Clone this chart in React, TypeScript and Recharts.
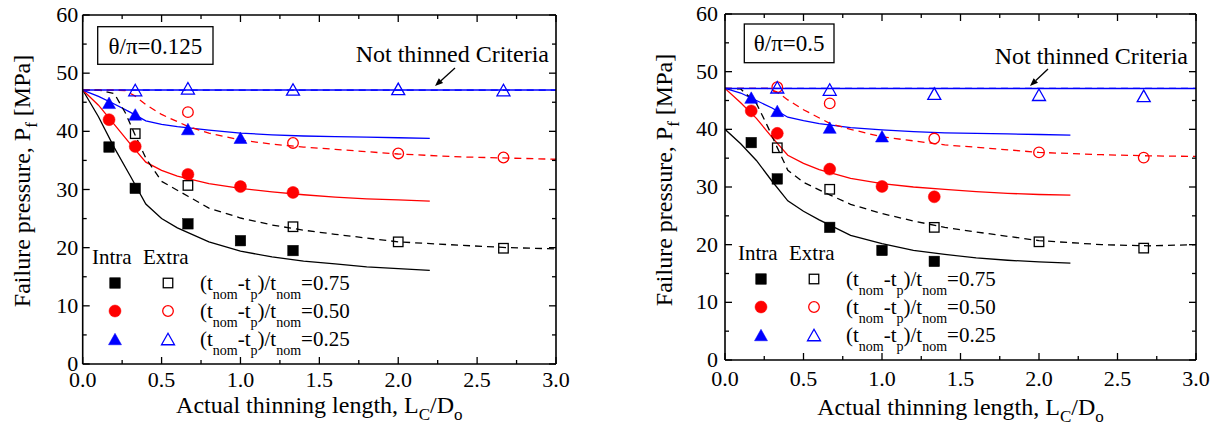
import { ComposedChart, Line, ReferenceLine, Scatter, XAxis, YAxis } from 'recharts'

const FONT = "'Liberation Serif', 'Times New Roman', 'DejaVu Serif', serif"
const BLACK = '#000000'
const RED = '#ff0000'
const BLUE = '#0000ff'

// L_C / D_o positions of the test points
const LC_INTRA = [0.167, 0.333, 0.667, 1.0, 1.333]
const LC_INTRA_025 = [0.167, 0.333, 0.667, 1.0]
const LC_EXTRA = [0.333, 0.667, 1.333, 2.0, 2.667]
const LC_EXTRA_050_A = [0.667, 1.333, 2.0, 2.667]

// L_C / D_o positions of the fitted curves
const LC_FIT_INTRA = [0, 0.1, 0.2, 0.3, 0.4, 0.5, 0.6, 0.8, 1.0, 1.2, 1.4, 1.6, 1.8, 2.0, 2.2]
const LC_FIT_EXTRA = [0, 0.1, 0.2, 0.27, 0.33, 0.4, 0.5, 0.67, 0.8, 1.0, 1.2, 1.4, 1.6, 2.0, 2.4, 2.7, 3.0]
const LC_FLAT = [0, 3.0]

const P_NOT_THINNED = 47.1

const X_TICKS = [0, 0.25, 0.5, 0.75, 1, 1.25, 1.5, 1.75, 2, 2.25, 2.5, 2.75, 3]
const Y_TICKS = [0, 5, 10, 15, 20, 25, 30, 35, 40, 45, 50, 55, 60]

// theta/pi = 0.125
const A_INTRA_075 = [37.3, 30.2, 24.1, 21.2, 19.5]
const A_EXTRA_075 = [39.6, 30.7, 23.6, 21.0, 19.9]
const A_INTRA_050 = [42.0, 37.4, 32.6, 30.5, 29.5]
const A_EXTRA_050 = [43.3, 38.0, 36.2, 35.5]
const A_INTRA_025 = [44.9, 42.9, 40.4, 38.9]
const A_EXTRA_025 = [47.1, 47.4, 47.2, 47.3, 47.1]

const A_FIT_INTRA_075 = [47.1, 42.5, 37.2, 32.4, 27.5, 25.0, 23.4, 21.0, 19.4, 18.4, 17.7, 17.2, 16.7, 16.4, 16.1]
const A_FIT_INTRA_050 = [47.1, 44.5, 41.2, 37.9, 34.7, 33.3, 32.3, 31.0, 30.2, 29.6, 29.1, 28.7, 28.4, 28.2, 28.0]
const A_FIT_INTRA_025 = [47.1, 46.0, 44.7, 43.3, 41.8, 41.2, 40.8, 40.2, 39.7, 39.4, 39.2, 39.1, 39.0, 38.9, 38.8]
const A_FIT_EXTRA_075 = [47.1, 47.1, 46.5, 43.2, 39.5, 35.4, 31.4, 28.8, 26.8, 25.1, 23.9, 23.0, 22.3, 21.0, 20.4, 20.0, 19.8]
const A_FIT_EXTRA_050 = [47.1, 47.1, 47.1, 47.0, 46.1, 44.6, 42.9, 40.8, 39.7, 38.5, 37.8, 37.3, 36.9, 36.1, 35.6, 35.4, 35.2]
const A_FIT_EXTRA_025 = [47.1, 47.1]

// theta/pi = 0.5
const B_INTRA_075 = [37.7, 31.4, 23.0, 19.0, 17.1]
const B_EXTRA_075 = [36.8, 29.6, 23.0, 20.5, 19.4]
const B_INTRA_050 = [43.2, 39.3, 33.1, 30.1, 28.3]
const B_EXTRA_050 = [47.3, 44.5, 38.4, 36.0, 35.1]
const B_INTRA_025 = [45.5, 43.2, 40.3, 38.8]
const B_EXTRA_025 = [47.3, 46.9, 46.2, 46.0, 45.8]

const B_FIT_INTRA_075 = [40.0, 37.5, 34.6, 31.0, 27.6, 25.8, 24.3, 21.6, 20.2, 19.0, 18.3, 17.7, 17.3, 17.0, 16.8]
const B_FIT_INTRA_050 = [47.1, 44.6, 41.9, 38.6, 35.5, 34.1, 33.0, 31.5, 30.6, 30.0, 29.6, 29.2, 28.9, 28.7, 28.6]
const B_FIT_INTRA_025 = [47.1, 46.3, 45.0, 43.7, 42.1, 41.5, 41.0, 40.3, 39.9, 39.6, 39.4, 39.3, 39.2, 39.1, 39.0]
const B_FIT_EXTRA_075 = [47.1, 47.0, 44.5, 40.6, 37.0, 32.9, 30.8, 28.6, 27.0, 25.4, 24.1, 23.0, 22.2, 20.7, 20.0, 19.8, 20.0]
const B_FIT_EXTRA_050 = [47.1, 47.1, 47.1, 47.1, 46.5, 45.1, 43.4, 41.0, 40.0, 38.7, 38.0, 37.3, 36.9, 36.0, 35.6, 35.4, 35.3]
const B_FIT_EXTRA_025 = [47.1, 47.1]

const RATIO_LABELS = ['0.75', '0.50', '0.25']

type Pt = { x: number; y: number }
type Shape = 'square' | 'circle' | 'triangle'
const zip = (xs: number[], ys: number[]): Pt[] => xs.map((x, i) => ({ x, y: ys[i] }))

type Group = { shape: Shape; color: string; intra: Pt[]; extra: Pt[]; intraFit: Pt[]; extraFit: Pt[] }

const GROUPS_A: Group[] = [
  { shape: 'square', color: BLACK, intra: zip(LC_INTRA, A_INTRA_075), extra: zip(LC_EXTRA, A_EXTRA_075), intraFit: zip(LC_FIT_INTRA, A_FIT_INTRA_075), extraFit: zip(LC_FIT_EXTRA, A_FIT_EXTRA_075) },
  { shape: 'circle', color: RED, intra: zip(LC_INTRA, A_INTRA_050), extra: zip(LC_EXTRA_050_A, A_EXTRA_050), intraFit: zip(LC_FIT_INTRA, A_FIT_INTRA_050), extraFit: zip(LC_FIT_EXTRA, A_FIT_EXTRA_050) },
  { shape: 'triangle', color: BLUE, intra: zip(LC_INTRA_025, A_INTRA_025), extra: zip(LC_EXTRA, A_EXTRA_025), intraFit: zip(LC_FIT_INTRA, A_FIT_INTRA_025), extraFit: zip(LC_FLAT, A_FIT_EXTRA_025) },
]

const GROUPS_B: Group[] = [
  { shape: 'square', color: BLACK, intra: zip(LC_INTRA, B_INTRA_075), extra: zip(LC_EXTRA, B_EXTRA_075), intraFit: zip(LC_FIT_INTRA, B_FIT_INTRA_075), extraFit: zip(LC_FIT_EXTRA, B_FIT_EXTRA_075) },
  { shape: 'circle', color: RED, intra: zip(LC_INTRA, B_INTRA_050), extra: zip(LC_EXTRA, B_EXTRA_050), intraFit: zip(LC_FIT_INTRA, B_FIT_INTRA_050), extraFit: zip(LC_FIT_EXTRA, B_FIT_EXTRA_050) },
  { shape: 'triangle', color: BLUE, intra: zip(LC_INTRA_025, B_INTRA_025), extra: zip(LC_EXTRA, B_EXTRA_025), intraFit: zip(LC_FIT_INTRA, B_FIT_INTRA_025), extraFit: zip(LC_FLAT, B_FIT_EXTRA_025) },
]

type PanelCfg = {
  left: number
  width: number
  plot: { l: number; t: number; r: number; b: number }
  theta: string
  box: { x: number; y: number; w: number; h: number }
  note: { x: number; y: number }
  arrow: [number, number, number, number]
  xTickDy: number
  yTickDx: number
  xTitleDy: number
  legendX: number
  groups: Group[]
}

const PANELS: PanelCfg[] = [
  {
    left: 0, width: 611, plot: { l: 82.7, t: 15, r: 556, b: 364 },
    theta: 'θ/π=0.125', box: { x: 97.7, y: 26.7, w: 115.3, h: 37.6 },
    note: { x: 549, y: 62 }, arrow: [455, 68, 435, 86],
    xTickDy: 22.5, yTickDx: -4.5, xTitleDy: 49, legendX: 92, groups: GROUPS_A,
  },
  {
    left: 611, width: 612, plot: { l: 725, t: 14, r: 1196, b: 360 },
    theta: 'θ/π=0.5', box: { x: 744.3, y: 24, w: 89.7, h: 38.7 },
    note: { x: 1188, y: 64 }, arrow: [1048, 69, 1030, 86],
    xTickDy: 25.5, yTickDx: -7, xTitleDy: 55, legendX: 738, groups: GROUPS_B,
  },
]

const isMajor = (v: number, step: number) => Math.abs(v / step - Math.round(v / step)) < 1e-6

const textStyle = { fontFamily: FONT }

function Marker({ cx, cy, shape, color, filled }: { cx: number; cy: number; shape: Shape; color: string; filled: boolean }) {
  const fill = filled ? color : 'none'
  const sw = filled ? 0.5 : 1.3
  if (shape === 'square') {
    const s = filled ? 10.5 : 9.5
    return <rect x={cx - s / 2} y={cy - s / 2} width={s} height={s} fill={fill} stroke={color} strokeWidth={sw} />
  }
  if (shape === 'circle') {
    return <circle cx={cx} cy={cy} r={filled ? 6 : 5.3} fill={fill} stroke={color} strokeWidth={sw} />
  }
  const w = 13
  const h = 11.5
  return (
    <polygon
      points={`${cx},${cy - h / 2} ${cx + w / 2},${cy + h / 2} ${cx - w / 2},${cy + h / 2}`}
      fill={fill}
      stroke={color}
      strokeWidth={sw}
    />
  )
}

function Panel({ cfg }: { cfg: PanelCfg }) {
  const { left, width, plot } = cfg
  const axisLine = { stroke: '#000', strokeWidth: 1.6 }

  const bottomTick = (p: any) => {
    const v = p.payload.value as number
    const major = isMajor(v, 0.5)
    return (
      <g>
        <line x1={p.x} x2={p.x} y1={p.y} y2={p.y - (major ? 7 : 4)} stroke="#000" strokeWidth={1.3} />
        {major && (
          <text x={p.x} y={p.y + cfg.xTickDy} textAnchor="middle" style={textStyle} fontSize={22} fill="#000">
            {v.toFixed(1)}
          </text>
        )}
      </g>
    )
  }
  const topTick = (p: any) => {
    const major = isMajor(p.payload.value, 0.5)
    return <line x1={p.x} x2={p.x} y1={p.y} y2={p.y + (major ? 7 : 4)} stroke="#000" strokeWidth={1.3} />
  }
  const leftTick = (p: any) => {
    const v = p.payload.value as number
    const major = isMajor(v, 10)
    return (
      <g>
        <line x1={p.x} x2={p.x + (major ? 7 : 4)} y1={p.y} y2={p.y} stroke="#000" strokeWidth={1.3} />
        {major && (
          <text x={p.x + cfg.yTickDx} y={p.y + 7} textAnchor="end" style={textStyle} fontSize={22} fill="#000">
            {v}
          </text>
        )}
      </g>
    )
  }
  const rightTick = (p: any) => {
    const major = isMajor(p.payload.value, 10)
    return <line x1={p.x} x2={p.x - (major ? 7 : 4)} y1={p.y} y2={p.y} stroke="#000" strokeWidth={1.3} />
  }

  return (
    <div style={{ position: 'absolute', left, top: 0 }}>
      <ComposedChart
        width={width}
        height={433}
        margin={{ top: plot.t - 2, right: left + width - plot.r - 2, bottom: 433 - plot.b - 40, left: plot.l - left - 60 }}
      >
        <XAxis dataKey="x" type="number" domain={[0, 3]} ticks={X_TICKS} interval={0} allowDataOverflow
          height={40} tickSize={0} tickMargin={0} tickLine={false} axisLine={axisLine} tick={bottomTick} />
        <XAxis xAxisId="top" orientation="top" dataKey="x" type="number" domain={[0, 3]} ticks={X_TICKS} interval={0}
          allowDataOverflow height={2} tickSize={0} tickMargin={0} tickLine={false} axisLine={axisLine} tick={topTick} />
        <YAxis dataKey="y" type="number" domain={[0, 60]} ticks={Y_TICKS} interval={0} allowDataOverflow
          width={60} tickSize={0} tickMargin={0} tickLine={false} axisLine={axisLine} tick={leftTick} />
        <YAxis yAxisId="right" orientation="right" type="number" domain={[0, 60]} ticks={Y_TICKS} interval={0}
          allowDataOverflow width={2} tickSize={0} tickMargin={0} tickLine={false} axisLine={axisLine} tick={rightTick} />

        <ReferenceLine y={P_NOT_THINNED} stroke={BLUE} strokeWidth={1.5} />

        {cfg.groups.map((g, i) => (
          <Line key={`fi${i}`} data={g.intraFit} dataKey="y" type="linear" stroke={g.color} strokeWidth={1.3}
            dot={false} activeDot={false} isAnimationActive={false} />
        ))}
        {cfg.groups.map((g, i) => (
          <Line key={`fe${i}`} data={g.extraFit} dataKey="y" type="linear" stroke={g.color} strokeWidth={1.3}
            strokeDasharray="7 5" dot={false} activeDot={false} isAnimationActive={false} />
        ))}
        {cfg.groups.map((g, i) => (
          <Scatter key={`pi${i}`} data={g.intra} isAnimationActive={false}
            shape={(p: any) => <Marker cx={p.cx} cy={p.cy} shape={g.shape} color={g.color} filled />} />
        ))}
        {cfg.groups.map((g, i) => (
          <Scatter key={`pe${i}`} data={g.extra} isAnimationActive={false}
            shape={(p: any) => <Marker cx={p.cx} cy={p.cy} shape={g.shape} color={g.color} filled={false} />} />
        ))}
      </ComposedChart>
    </div>
  )
}

function Overlay({ cfg }: { cfg: PanelCfg }) {
  const { plot, box, note, arrow, legendX } = cfg
  const [ax1, ay1, ax2, ay2] = arrow
  const ang = Math.atan2(ay2 - ay1, ax2 - ax1)
  const hl = 8
  const hw = 3.2
  const bx = ax2 - hl * Math.cos(ang)
  const by = ay2 - hl * Math.sin(ang)
  const head = `${ax2},${ay2} ${bx + hw * Math.sin(ang)},${by - hw * Math.cos(ang)} ${bx - hw * Math.sin(ang)},${by + hw * Math.cos(ang)}`
  const xMid = (plot.l + plot.r) / 2
  const yTitleY = plot.t + 166
  const rows = [plot.b - 81, plot.b - 53, plot.b - 25]

  return (
    <g style={textStyle} fill="#000">
      <rect x={box.x} y={box.y} width={box.w} height={box.h} fill="#fff" stroke="#000" strokeWidth={1.3} />
      <text x={box.x + box.w / 2} y={box.y + box.h / 2 + 8} textAnchor="middle" fontSize={23} style={textStyle}>
        {cfg.theta}
      </text>

      <text x={note.x} y={note.y} textAnchor="end" fontSize={24} style={textStyle}>Not thinned Criteria</text>
      <line x1={ax1} y1={ay1} x2={bx} y2={by} stroke="#000" strokeWidth={1.3} />
      <polygon points={head} fill="#000" />

      <text x={xMid} y={plot.b + cfg.xTitleDy} textAnchor="middle" fontSize={24} style={textStyle}>
        Actual thinning length, L
        <tspan fontSize={17} dy={7}>C</tspan>
        <tspan dy={-7}>/D</tspan>
        <tspan fontSize={17} dy={7}>o</tspan>
      </text>
      <text transform={`translate(${plot.l - 53},${yTitleY}) rotate(-90)`} textAnchor="middle" fontSize={24} style={textStyle}>
        Failure pressure, P
        <tspan fontSize={17} dy={7}>f</tspan>
        <tspan dy={-7}> [MPa]</tspan>
      </text>

      <text x={legendX} y={plot.b - 100.5} fontSize={21} style={textStyle}>Intra</text>
      <text x={legendX + 51} y={plot.b - 100.5} fontSize={21} style={textStyle}>Extra</text>
      {cfg.groups.map((g, i) => (
        <g key={i}>
          <Marker cx={legendX + 23} cy={rows[i]} shape={g.shape} color={g.color} filled />
          <Marker cx={legendX + 76} cy={rows[i]} shape={g.shape} color={g.color} filled={false} />
          <text x={legendX + 108} y={rows[i] + 6.5} fontSize={21} style={textStyle}>
            (t<tspan fontSize={14} dy={9}>nom</tspan>
            <tspan dy={-9}>-t</tspan>
            <tspan fontSize={14} dy={9}>p</tspan>
            <tspan dy={-9}>)/t</tspan>
            <tspan fontSize={14} dy={9}>nom</tspan>
            <tspan dy={-9}>={RATIO_LABELS[i]}</tspan>
          </text>
        </g>
      ))}
    </g>
  )
}

export default function App() {
  return (
    <div style={{ position: 'absolute', left: 0, top: 0, width: 1223, height: 433, background: '#fff', fontFamily: FONT }}>
      {PANELS.map((p, i) => (
        <Panel key={i} cfg={p} />
      ))}
      <svg width={1223} height={433} style={{ position: 'absolute', left: 0, top: 0, pointerEvents: 'none' }}>
        {PANELS.map((p, i) => (
          <Overlay key={i} cfg={p} />
        ))}
      </svg>
    </div>
  )
}
